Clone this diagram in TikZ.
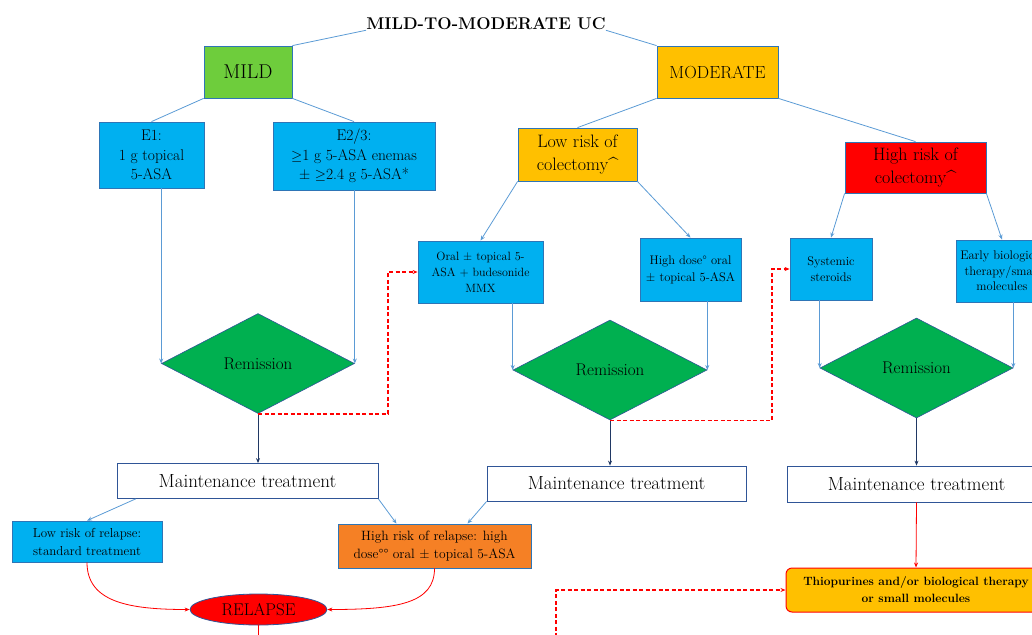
\documentclass[tikz,border=0pt]{standalone}
\usepackage{fontspec}
\usetikzlibrary{shapes.geometric,arrows.meta}

\definecolor{skyfill}{RGB}{0,176,240}
\definecolor{boxline}{RGB}{46,117,182}
\definecolor{gold}{RGB}{255,192,0}
\definecolor{mildgreen}{RGB}{110,205,60}
\definecolor{remgreen}{RGB}{0,176,80}
\definecolor{navyline}{RGB}{47,85,151}
\definecolor{navyarrow}{RGB}{32,56,100}
\definecolor{linkblue}{RGB}{91,155,213}
\definecolor{relorange}{RGB}{245,128,37}

\begin{document}
\begin{tikzpicture}[x=1pt,y=-1pt,>={Stealth[length=5pt,width=4pt]},
    box/.style={draw=boxline,line width=0.8pt,fill=skyfill,align=center,inner sep=1pt},
    decide/.style={diamond,aspect=2,draw=navyline,line width=0.6pt,fill=remgreen,inner sep=0pt,
        minimum width=193pt,minimum height=100pt,font=\fontsize{17}{20}\selectfont},
    maint/.style={draw=navyline,line width=0.8pt,fill=white,minimum width=259pt,minimum height=35pt,
        font=\fontsize{19}{22}\selectfont},
    link/.style={color=linkblue,line width=0.8pt},
    back/.style={red,line width=1.4pt,dash pattern=on 4pt off 2.5pt}]
  \useasboundingbox (0,0) rectangle (1032,634);
  \clip (0,0) rectangle (1032,634);

  % top of the tree
  \node[inner sep=0pt,font=\bfseries\fontsize{17}{20}\selectfont] (uc) at (486,24) {MILD-TO-MODERATE UC};
  \node[box,fill=mildgreen,minimum width=88pt,minimum height=52pt,font=\fontsize{20}{24}\selectfont] (mild) at (248,72) {MILD};
  \node[box,fill=gold,minimum width=121pt,minimum height=52pt,font=\fontsize{17.5}{21}\selectfont] (moderate) at (717.5,72) {MODERATE};

  % mild branch
  \node[box,minimum width=105pt,minimum height=66pt,font=\fontsize{15.5}{19.5}\selectfont] (e1) at (151.5,155) {E1:\\1 g topical\\5-ASA};
  \node[box,minimum width=162pt,minimum height=68pt,font=\fontsize{15.5}{19.5}\selectfont] (e23) at (354,156) {E2/3:\\$\geq$1 g 5-ASA enemas\\± $\geq$2.4 g 5-ASA*};
  \node[decide] (rem1) at (258,363.5) {Remission};
  \node[maint,minimum width=261pt] (maint1) at (247.5,481) {Maintenance treatment};

  % moderate branch
  \node[box,fill=gold,minimum width=119pt,minimum height=53pt,font=\fontsize{18}{23}\selectfont] (lowcol) at (577.5,154.5) {Low risk of\\colectomy\textasciicircum};
  \node[box,fill=red,minimum width=141pt,minimum height=51pt,font=\fontsize{18}{23}\selectfont] (highcol) at (915.5,167.5) {High risk of\\colectomy\textasciicircum};
  \node[box,minimum width=125pt,minimum height=62pt,font=\fontsize{12}{16}\selectfont] (oral) at (480.5,272) {Oral ± topical 5-\\ASA + budesonide\\MMX};
  \node[box,minimum width=101pt,minimum height=63pt,font=\fontsize{12.5}{17}\selectfont] (highdose) at (690.5,269.5) {High dose° oral\\± topical 5-ASA};
  \node[box,minimum width=82pt,minimum height=62pt,font=\fontsize{12.5}{16}\selectfont] (steroids) at (831,269) {Systemic\\steroids};
  \node[box,minimum width=92pt,minimum height=62pt,font=\fontsize{12.5}{15.5}\selectfont] (early) at (1002,271) {Early biological\\therapy/small\\molecules};
  \node[decide,minimum width=194pt] (rem2) at (610,370) {Remission};
  \node[decide] (rem3) at (916.5,368) {Remission};
  \node[maint] (maint2) at (616.5,483.5) {Maintenance treatment};
  \node[maint,minimum height=36pt] (maint3) at (916.5,484) {Maintenance treatment};

  % bottom row
  \node[box,minimum width=150pt,minimum height=41pt,font=\fontsize{13}{18}\selectfont] (lowrel) at (87,541.5) {Low risk of relapse:\\standard treatment};
  \node[box,fill=relorange,minimum width=193pt,minimum height=44pt,font=\fontsize{13.5}{18}\selectfont] (highrel) at (434.5,546) {High risk of relapse: high\\dose°° oral ± topical 5-ASA};
  \node[ellipse,draw=navyline,line width=0.8pt,fill=red,inner sep=0pt,minimum width=137pt,minimum height=31pt,
      font=\fontsize{17}{20}\selectfont] (relapse) at (258.5,609.5) {RELAPSE};
  \node[draw=red,line width=1pt,fill=gold,rounded corners=6pt,align=center,minimum width=260pt,minimum height=44pt,
      font=\bfseries\fontsize{12}{17}\selectfont] (thio) at (916,590) {Thiopurines and/or biological therapy\\or small molecules};
  \coordinate (lowend) at (556,650);
  \coordinate (relend) at (258.5,650);

  \path[link]
    (uc.south west) edge (mild.north east)
    (uc.south east) edge (moderate.north west)
    (mild.south west) edge (e1.north)
    (mild.south east) edge (e23.north)
    (moderate.south west) edge (lowcol.north)
    (moderate.south east) edge (highcol.north);
  \path[link,->]
    (lowcol.south west) edge (oral.north)
    (lowcol.south east) edge (highdose.north)
    (highcol.south west) edge (steroids.north)
    (highcol.south east) edge (early.north)
    (e1.south -| rem1.west) edge (rem1.west)
    (e23.south -| rem1.east) edge (rem1.east)
    (oral.south -| rem2.west) edge (rem2.west)
    (highdose.south -| rem2.east) edge (rem2.east)
    (steroids.south -| rem3.west) edge (rem3.west)
    (early.south -| rem3.east) edge (rem3.east)
    ([xshift=19pt]maint1.south west) edge (lowrel.north)
    (maint1.south east) edge ([xshift=-38pt]highrel.north)
    (maint2.south west) edge ([xshift=33pt]highrel.north);
  \path[->,color=navyarrow,line width=0.8pt]
    (rem1.south) edge (rem1.south |- maint1.north)
    (rem2.south) edge (rem2.south |- maint2.north)
    (rem3.south) edge (rem3.south |- maint3.north);

  % back to treatment after relapse
  \draw[back,->] (rem1.south) -- ++(130,0) |- (oral.west);
  \draw[back,->] (rem2.south) -- ++(162,0) |- (steroids.west);
  \draw[back,->] (lowend) |- (thio.west);

  \draw[red,line width=0.8pt,->] (lowrel.south) .. controls +(0,40) and +(-60,0) .. (relapse.west);
  \draw[red,line width=0.8pt,->] (highrel.south) .. controls +(0,35) and +(70,0) .. (relapse.east);
  \draw[red,line width=0.8pt] (relapse.south) -- (relend);
  \draw[red,line width=0.8pt,->] (maint3.south) -- (thio.north);
\end{tikzpicture}
\end{document}
